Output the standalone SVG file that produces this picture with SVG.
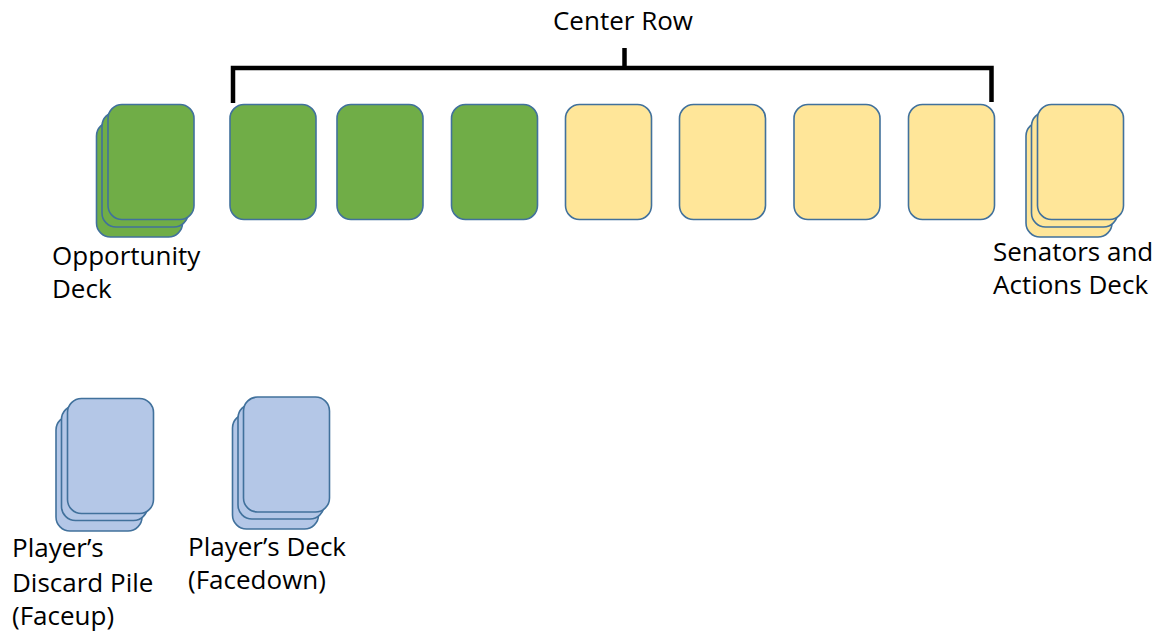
<svg xmlns="http://www.w3.org/2000/svg" width="1155" height="634" viewBox="0 0 1155 634">
  <style>
    .card { stroke: #41719C; stroke-width: 1.6; }
    .green { fill: #70AD47; }
    .yellow { fill: #FFE699; }
    .blue { fill: #B4C7E7; }
    .label { font-family: "Open Sans", "Noto Sans", "Liberation Sans", sans-serif; font-size: 26px; fill: #000000; }
    .bracket { fill: none; stroke: #000000; stroke-width: 4.5; stroke-linecap: butt; stroke-linejoin: miter; }
  </style>
  <defs>
    <!-- single card face, 86 x 115 with rounded corners -->
    <rect id="cardShape" x="0" y="0" width="86" height="115" rx="14" ry="14"/>
  </defs>
  <rect width="1155" height="634" fill="#ffffff"/>

  <!-- bracket grouping the center row -->
  <g id="connectors">
    <path class="bracket" d="M233,103 V68 H991.5 V102"/>
    <path class="bracket" d="M624.5,48 V68"/>
  </g>

  <g id="center-row-label">
    <text class="label" x="623" y="30" text-anchor="middle">Center Row</text>
  </g>

  <!-- Opportunity deck: stack of three cards -->
  <g id="opportunity-deck">
    <use href="#cardShape" class="card green" x="96.5" y="122"/>
    <use href="#cardShape" class="card green" x="102" y="112"/>
    <use href="#cardShape" class="card green" x="108" y="104.5"/>
    <text class="label" x="52" y="265"><tspan x="52">Opportunity</tspan><tspan x="52" dy="33">Deck</tspan></text>
  </g>

  <!-- center row cards -->
  <g id="center-card-1"><use href="#cardShape" class="card green" x="230" y="104.5"/></g>
  <g id="center-card-2"><use href="#cardShape" class="card green" x="337" y="104.5"/></g>
  <g id="center-card-3"><use href="#cardShape" class="card green" x="451.5" y="104.5"/></g>
  <g id="center-card-4"><use href="#cardShape" class="card yellow" x="565.5" y="104.5"/></g>
  <g id="center-card-5"><use href="#cardShape" class="card yellow" x="679.5" y="104.5"/></g>
  <g id="center-card-6"><use href="#cardShape" class="card yellow" x="794" y="104.5"/></g>
  <g id="center-card-7"><use href="#cardShape" class="card yellow" x="908.5" y="104.5"/></g>

  <!-- Senators and Actions deck -->
  <g id="senators-actions-deck">
    <use href="#cardShape" class="card yellow" x="1026" y="122"/>
    <use href="#cardShape" class="card yellow" x="1031.5" y="112"/>
    <use href="#cardShape" class="card yellow" x="1037.5" y="104.5"/>
    <text class="label" x="993" y="261"><tspan x="993">Senators and</tspan><tspan x="993" dy="33">Actions Deck</tspan></text>
  </g>

  <!-- Player's discard pile -->
  <g id="discard-pile">
    <use href="#cardShape" class="card blue" x="56" y="416"/>
    <use href="#cardShape" class="card blue" x="61.5" y="405.5"/>
    <use href="#cardShape" class="card blue" x="67.5" y="398.5"/>
    <text class="label" x="12" y="557"><tspan x="12">Player’s</tspan><tspan x="12" dy="35">Discard Pile</tspan><tspan x="12" dy="33">(Faceup)</tspan></text>
  </g>

  <!-- Player's deck -->
  <g id="player-deck">
    <use href="#cardShape" class="card blue" x="232.5" y="414"/>
    <use href="#cardShape" class="card blue" x="238" y="404"/>
    <use href="#cardShape" class="card blue" x="243.5" y="397"/>
    <text class="label" x="188" y="556"><tspan x="188">Player’s Deck</tspan><tspan x="188" dy="33">(Facedown)</tspan></text>
  </g>
</svg>
